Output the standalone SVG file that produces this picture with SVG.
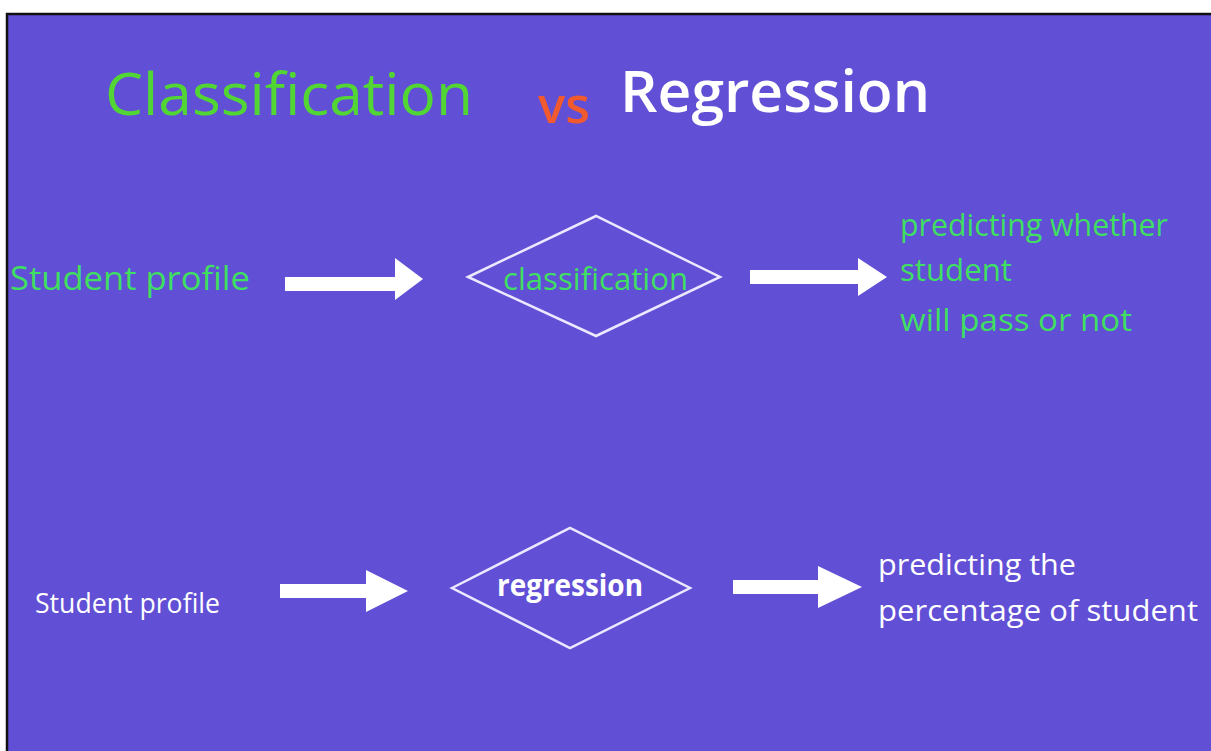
<svg xmlns="http://www.w3.org/2000/svg" width="1211" height="751" viewBox="0 0 1211 751">
<style>
.t{font-family:"Open Sans","Liberation Sans",sans-serif;}
.g{fill:#3fdf62;}
.w{fill:#ffffff;}
.dia{fill:none;stroke:#ece8ff;stroke-width:2.5;}
.arr{fill:#ffffff;}
</style>
<rect x="0" y="0" width="1211" height="751" fill="#ffffff"/>
<rect x="7" y="14" width="1204" height="737" fill="#614fd5"/>
<path d="M7,751 V14 H1211" fill="none" stroke="#111111" stroke-width="2.5"/>
<g id="title">
<text class="t" x="105" y="115" font-size="58" fill="#52d634" textLength="368" lengthAdjust="spacingAndGlyphs">Classification</text>
<text class="t" x="538" y="123" font-size="50" font-weight="600" fill="#f05a2e" textLength="52" lengthAdjust="spacingAndGlyphs">vs</text>
<text class="t" x="620" y="112" font-size="58" font-weight="600" fill="#ffffff" textLength="310" lengthAdjust="spacingAndGlyphs">Regression</text>
</g>
<g id="connectors">
<polygon class="arr" points="285,277 395,277 395,258 423,279 395,300 395,291 285,291"/>
<polygon class="arr" points="750,270 858,270 858,258 887,277 858,296 858,284 750,284"/>
<polygon class="arr" points="280,584 366,584 366,570 408,591 366,612 366,598 280,598"/>
<polygon class="arr" points="733,580 818,580 818,566 862,587 818,608 818,594 733,594"/>
</g>
<g id="n-input1">
<text class="t g" x="10" y="290" font-size="32" textLength="240" lengthAdjust="spacingAndGlyphs">Student profile</text>
</g>
<g id="n-classification">
<polygon class="dia" points="468,277 596,216 720,277 596,336"/>
<text class="t g" x="503" y="290" font-size="31" textLength="185" lengthAdjust="spacingAndGlyphs">classification</text>
</g>
<g id="n-output1">
<text class="t g" x="900" y="236" font-size="31" textLength="268" lengthAdjust="spacingAndGlyphs">predicting whether</text>
<text class="t g" x="900" y="281" font-size="31" textLength="112" lengthAdjust="spacingAndGlyphs">student</text>
<text class="t g" x="900" y="331" font-size="31" textLength="232" lengthAdjust="spacingAndGlyphs">will pass or not</text>
</g>
<g id="n-input2">
<text class="t w" x="35" y="613" font-size="27" textLength="185" lengthAdjust="spacingAndGlyphs">Student profile</text>
</g>
<g id="n-regression">
<polygon class="dia" points="452,588 570,528 690,588 570,648"/>
<text class="t w" x="497" y="596" font-size="30" font-weight="bold" textLength="146" lengthAdjust="spacingAndGlyphs">regression</text>
</g>
<g id="n-output2">
<text class="t w" x="878" y="575" font-size="29" textLength="198" lengthAdjust="spacingAndGlyphs">predicting the</text>
<text class="t w" x="878" y="621" font-size="29" textLength="320" lengthAdjust="spacingAndGlyphs">percentage of student</text>
</g>
</svg>
